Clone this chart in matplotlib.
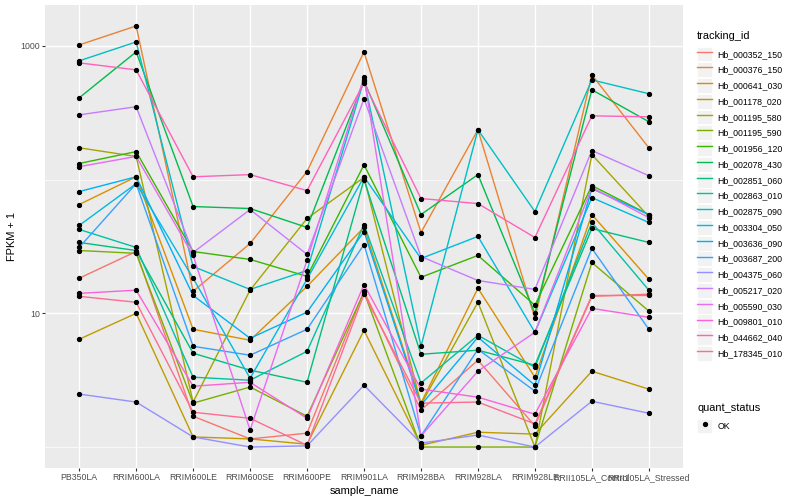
import matplotlib
matplotlib.use("Agg")
import matplotlib.pyplot as plt
from matplotlib.lines import Line2D
from matplotlib.patches import Rectangle
from matplotlib.legend_handler import HandlerLine2D
from matplotlib.ticker import FixedLocator, NullFormatter

plt.rcParams['font.family'] = ['Liberation Sans', 'DejaVu Sans']

samples = ['PB350LA', 'RRIM600LA', 'RRIM600LE', 'RRIM600SE', 'RRIM600PE', 'RRIM901LA',
           'RRIM928BA', 'RRIM928LA', 'RRIM928LE', 'RRII105LA_Control', 'RRII105LA_Stressed']

tracking_ids = ['Hb_000352_150', 'Hb_000376_150', 'Hb_000641_030', 'Hb_001178_020',
                'Hb_001195_580', 'Hb_001195_590', 'Hb_001956_120', 'Hb_002078_430',
                'Hb_002851_060', 'Hb_002863_010', 'Hb_002875_090', 'Hb_003304_050',
                'Hb_003636_090', 'Hb_003687_200', 'Hb_004375_060', 'Hb_005217_020',
                'Hb_005590_030', 'Hb_009801_010', 'Hb_044662_040', 'Hb_178345_010']

# ggplot hue palette, 20 levels
colors = ['#F8766D', '#EA8331', '#D89000', '#C09B00', '#A3A500', '#7CAE00', '#39B600',
          '#00BB4E', '#00BF7D', '#00C1A3', '#00BFC4', '#00BAE0', '#00B0F6', '#35A2FF',
          '#9590FF', '#C77CFF', '#E76BF3', '#FA62DB', '#FF62BC', '#FF6C91']

# FPKM + 1, one list per gene, in sample order
hb_000352_150 = [18.3, 29.0, 1.70, 1.15, 1.27, 14.6, 1.89, 4.46, 1.44, 13.4, 13.9]
hb_000376_150 = [1017, 1410, 14.6, 33.3, 115, 902, 40.2, 236, 9.18, 608, 173]
hb_000641_030 = [65.1, 105, 7.60, 6.29, 15.9, 43.9, 2.13, 15.4, 3.33, 54.8, 18.0]
hb_001178_020 = [6.40, 10.0, 1.19, 1.15, 1.05, 7.46, 1.03, 1.29, 1.25, 3.69, 2.71]
hb_001195_580 = [173, 149, 2.17, 14.9, 51.2, 104, 2.09, 12.1, 1.0, 154, 52.9]
hb_001195_590 = [29.5, 28.1, 2.13, 2.81, 1.70, 14.4, 1.0, 1.0, 1.0, 24.0, 10.4]
hb_001956_120 = [132, 162, 29.0, 25.3, 18.9, 129, 18.6, 27.1, 11.5, 90.2, 54.8]
hb_002078_430 = [409, 902, 62.9, 60.8, 43.9, 548, 54.8, 109, 10.0, 470, 271]
hb_002851_060 = [33.9, 29.5, 5.03, 3.76, 3.05, 100, 4.94, 5.30, 4.09, 43.1, 33.9]
hb_002863_010 = [42.4, 31.1, 3.33, 3.16, 5.20, 46.1, 3.01, 6.85, 3.95, 47.8, 14.9]
hb_002875_090 = [773, 1071, 22.4, 15.1, 20.9, 557, 5.67, 236, 57.7, 557, 439]
hb_003304_050 = [45.4, 93.3, 18.3, 3.27, 18.0, 105, 25.7, 37.6, 7.21, 73.4, 47.8]
hb_003636_090 = [81.4, 105, 13.6, 6.51, 10.2, 40.9, 2.06, 6.62, 2.90, 85.7, 54.8]
hb_003687_200 = [31.1, 93.3, 5.67, 4.86, 7.60, 32.7, 1.21, 5.38, 2.62, 30.6, 7.60]
hb_004375_060 = [2.49, 2.17, 1.19, 1.0, 1.02, 2.90, 1.07, 1.23, 1.0, 2.20, 1.79]
hb_005217_020 = [305, 351, 28.5, 59.7, 27.6, 402, 26.6, 17.6, 15.1, 165, 107]
hb_005590_030 = [125, 149, 27.1, 1.34, 24.9, 587, 1.21, 3.69, 7.21, 87.1, 52.0]
hb_009801_010 = [14.1, 14.9, 2.85, 3.05, 1.64, 16.4, 2.71, 2.36, 1.76, 10.9, 9.33]
hb_044662_040 = [747, 662, 105, 109, 82.8, 530, 72.2, 66.2, 36.9, 300, 295]
hb_178345_010 = [13.4, 12.1, 1.82, 1.64, 1.03, 13.9, 2.13, 2.17, 1.49, 13.6, 13.6]

series = [hb_000352_150, hb_000376_150, hb_000641_030, hb_001178_020, hb_001195_580,
          hb_001195_590, hb_001956_120, hb_002078_430, hb_002851_060, hb_002863_010,
          hb_002875_090, hb_003304_050, hb_003636_090, hb_003687_200, hb_004375_060,
          hb_005217_020, hb_005590_030, hb_009801_010, hb_044662_040, hb_178345_010]


class KeyHandler(HandlerLine2D):
    # grey key box behind the legend glyph, like ggplot
    def create_artists(self, legend, orig_handle, xdescent, ydescent, width, height,
                       fontsize, trans):
        arts = super().create_artists(legend, orig_handle, xdescent, ydescent, width,
                                      height, fontsize, trans)
        box = Rectangle((-xdescent, -ydescent), width, height, facecolor='#F2F2F2',
                        edgecolor='white', linewidth=0.6, transform=trans)
        return [box] + list(arts)


fig = plt.figure(figsize=(8, 5), dpi=100)
ax = fig.add_axes([45 / 800, 32 / 500, 638 / 800, 463 / 500])
ax.set_facecolor('#EBEBEB')
for s in ax.spines.values():
    s.set_visible(False)

for vals, col in zip(series, colors):
    ax.plot(samples, vals, color=col, lw=1.0, zorder=2)
for vals in series:
    ax.plot(samples, vals, ls='', marker='o', ms=2.8, color='black', zorder=3)

ax.set_yscale('log')
ax.set_ylim(0.697, 2023)
ax.set_xlim(-0.6, len(samples) - 0.4)
ax.yaxis.set_major_locator(FixedLocator([10, 1000]))
ax.set_yticklabels(['10', '1000'])
ax.yaxis.set_minor_locator(FixedLocator([1, 100]))
ax.yaxis.set_minor_formatter(NullFormatter())

ax.set_axisbelow(True)
ax.grid(which='major', color='white', lw=1.0)
ax.grid(which='minor', axis='y', color='white', lw=0.5)
ax.tick_params(which='major', length=2.2, width=0.8, color='#333333',
               labelsize=6.3, labelcolor='#4D4D4D', pad=1.6)
ax.tick_params(which='minor', length=0)

ax.set_xlabel('sample_name', fontsize=7.9, labelpad=2.5)
ax.set_ylabel('FPKM + 1', fontsize=7.9, labelpad=2.5)

leg_kw = dict(loc='upper left', frameon=False, fontsize=6.3, title_fontsize=7.9,
              alignment='left', handlelength=1.75, handleheight=2.24, labelspacing=0.1,
              handletextpad=0.55, borderpad=0, borderaxespad=0,
              handler_map={Line2D: KeyHandler()})

handles = [Line2D([], [], color=c, lw=1.0) for c in colors]
leg1 = fig.legend(handles, tracking_ids, bbox_to_anchor=(697 / 800, 1 - 31 / 500),
                  title='tracking_id', **leg_kw)
leg1._legend_box.sep = 4

ok = Line2D([], [], ls='', marker='o', ms=2.8, color='black')
leg2 = fig.legend([ok], ['OK'], bbox_to_anchor=(697 / 800, 1 - 403 / 500),
                  title='quant_status', numpoints=1, **leg_kw)
leg2._legend_box.sep = 4

fig.savefig('out.png', dpi=100)
